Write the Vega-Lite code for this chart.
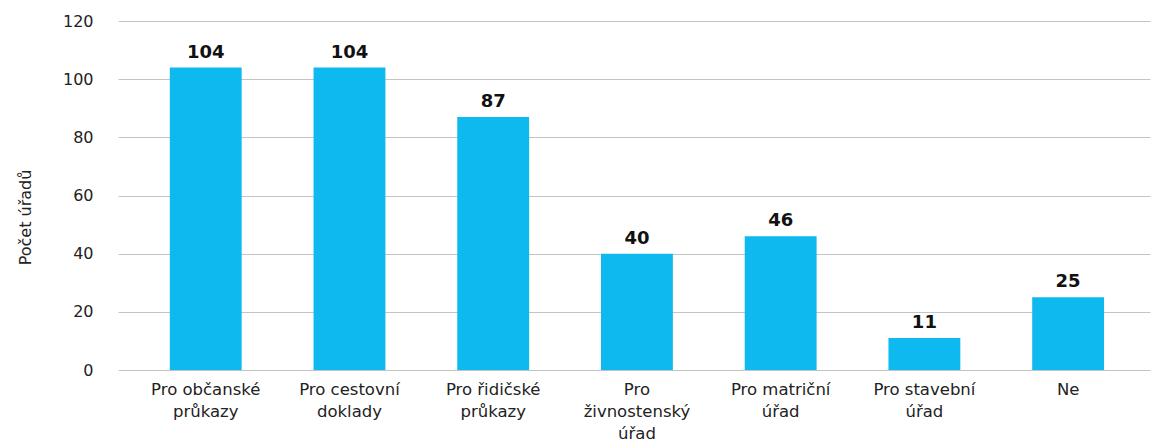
{
  "$schema": "https://vega.github.io/schema/vega-lite/v6.json",
  "width": 1032,
  "height": 349,
  "autosize": {"type": "none"},
  "padding": {"left": 118, "top": 21, "right": 2, "bottom": 77},
  "background": "white",
  "config": {
    "view": {"stroke": null},
    "font": "DejaVu Sans",
    "axis": {"labelFont": "DejaVu Sans", "titleFont": "DejaVu Sans"}
  },
  "data": {
    "values": [
      {"kategorie": "Pro občanské|průkazy", "pocet": 104},
      {"kategorie": "Pro cestovní|doklady", "pocet": 104},
      {"kategorie": "Pro řidičské|průkazy", "pocet": 87},
      {"kategorie": "Pro|živnostenský|úřad", "pocet": 40},
      {"kategorie": "Pro matriční|úřad", "pocet": 46},
      {"kategorie": "Pro stavební|úřad", "pocet": 11},
      {"kategorie": "Ne", "pocet": 25}
    ]
  },
  "encoding": {
    "x": {
      "field": "kategorie",
      "type": "nominal",
      "sort": null,
      "scale": {"paddingInner": 0.5, "paddingOuter": 0.34, "align": 0.53},
      "axis": {
        "title": null,
        "labelAngle": 0,
        "labelExpr": "split(datum.value, '|')",
        "labelFontSize": 16.5,
        "labelColor": "#222222",
        "labelLineHeight": 22,
        "labelPadding": 11,
        "ticks": false,
        "domain": false,
        "labelBaseline": "top",
        "labelLimit": 250
      }
    },
    "y": {
      "field": "pocet",
      "type": "quantitative",
      "scale": {"domain": [0, 120]},
      "axis": {
        "title": "Počet úřadů",
        "titleFontSize": 16,
        "titleFontWeight": "normal",
        "titleColor": "#222222",
        "titlePadding": 29,
        "titleY": 196,
        "values": [0, 20, 40, 60, 80, 100, 120],
        "labelFontSize": 16,
        "labelColor": "#222222",
        "labelPadding": 25,
        "ticks": false,
        "domain": false,
        "gridColor": "#c4c4c4",
        "gridWidth": 1.2
      }
    }
  },
  "layer": [
    {"mark": {"type": "bar", "color": "#0DB9EE"}},
    {
      "mark": {"type": "text", "dy": -15, "fontSize": 18, "fontWeight": "bold", "color": "#111111"},
      "encoding": {"text": {"field": "pocet", "type": "quantitative"}}
    }
  ]
}
